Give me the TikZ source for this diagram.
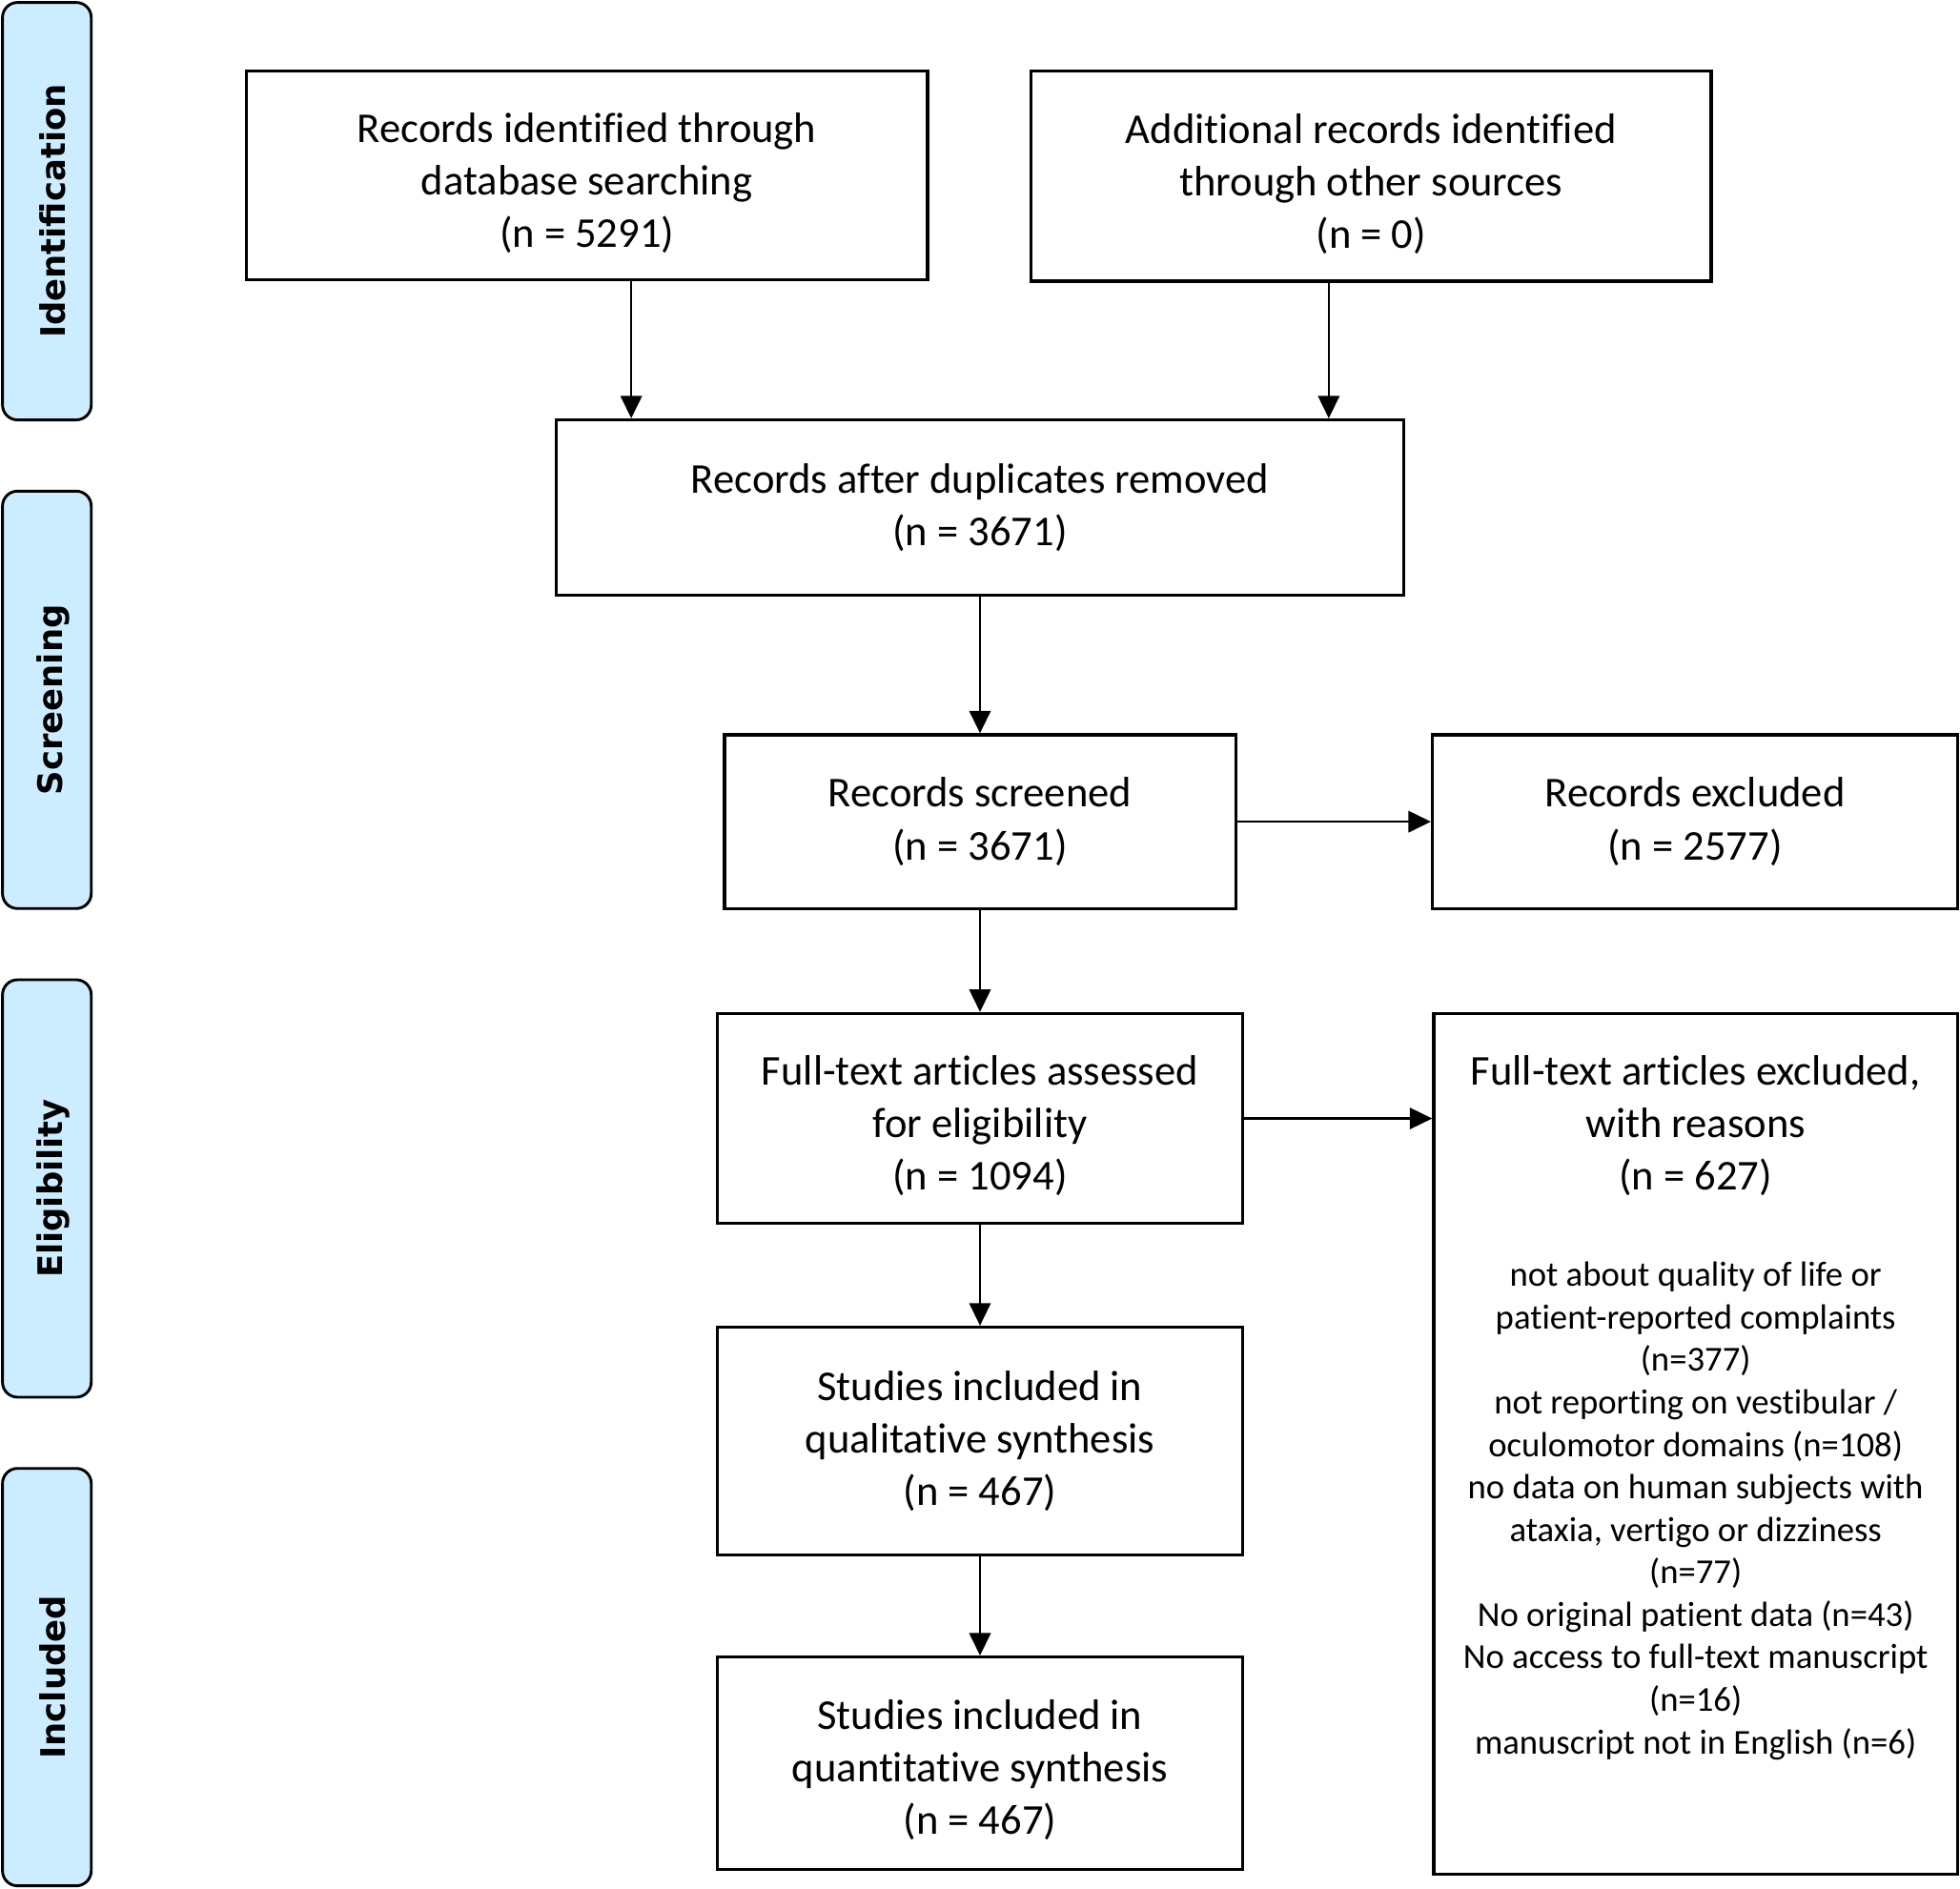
\documentclass[tikz,border=0pt]{standalone}
\usepackage{fontspec}
\setmainfont{Carlito}[Ligatures=CommonOff]
\newfontfamily\sidefont{DejaVu Sans}
\usetikzlibrary{arrows.meta}
\definecolor{sidefill}{RGB}{204,236,255}
\begin{document}
\begin{tikzpicture}[x=1pt,y=-1pt,
  box/.style={draw, line width=2.5pt, rectangle, inner sep=0pt},
  boxtext/.style={align=center, inner sep=0pt, font=\fontsize{34}{42}\selectfont},
  sidebar/.style={draw, line width=2.2pt, fill=sidefill, rounded corners=12pt,
              minimum width=71pt, minimum height=334pt, inner sep=0pt},
  sidetext/.style={rotate=90, font=\sidefont\bfseries\fontsize{27}{32}\selectfont, inner sep=0pt},
  arr/.style={line width=2pt, -{Triangle[length=18pt,width=17pt]}},
  small/.style={align=center, inner sep=0pt, font=\fontsize{28}{34}\selectfont}
]
\useasboundingbox (0,0) rectangle (1568,1511);

% side bars
\node[sidebar] (idbar) at (37.5,169) {};
\node[sidetext] (idtxt) at ([xshift=5pt]idbar.center) {Identification};
\node[sidebar] (scbar) at (37.5,560) {};
\node[sidetext] (sctxt) at ([xshift=5pt]scbar.center) {Screening};
\node[sidebar] (elbar) at (37.5,951) {};
\node[sidetext] (eltxt) at ([xshift=5pt]elbar.center) {Eligibility};
\node[sidebar] (inbar) at (37.5,1342) {};
\node[sidetext] (intxt) at ([xshift=5pt]inbar.center) {Included};

% boxes
\node[box, minimum width=545pt, minimum height=167pt] (rec1) at (469.5,140.5) {};
\node[boxtext] (rec1t) at ([yshift=-6pt]rec1.center)
  {Records identified through\\database searching\\(n = 5291)};
\node[box, minimum width=544pt, minimum height=168pt] (rec2) at (1097,141) {};
\node[boxtext] (rec2t) at ([yshift=-6pt]rec2.center)
  {Additional records identified\\through other sources\\(n = 0)};
\node[box, minimum width=678pt, minimum height=140pt] (dup) at (784,406) {};
\node[boxtext] (dupt) at (dup.center)
  {Records after duplicates removed\\(n = 3671)};
\node[box, minimum width=409pt, minimum height=139pt] (scr) at (784,657.5) {};
\node[boxtext] (scrt) at (scr.center)
  {Records screened\\(n = 3671)};
\node[box, minimum width=420pt, minimum height=139pt] (excl) at (1356,657.5) {};
\node[boxtext] (exclt) at (excl.center)
  {Records excluded\\(n = 2577)};
\node[box, minimum width=420pt, minimum height=168pt] (fta) at (784,895) {};
\node[boxtext] (ftat) at ([yshift=-6pt]fta.center)
  {Full-text articles assessed\\for eligibility\\(n = 1094)};
\node[box, minimum width=419pt, minimum height=689pt] (ftx) at (1356.5,1155.5) {};
\node[boxtext] (ftxhead) at (1356.5,901)
  {Full-text articles excluded,\\with reasons\\(n = 627)};
\node[small] (ftxreasons) at (1356.5,1209)
  {not about quality of life or\\patient-reported complaints\\(n=377)\\
   not reporting on vestibular /\\oculomotor domains (n=108)\\
   no data on human subjects with\\ataxia, vertigo or dizziness\\(n=77)\\
   No original patient data (n=43)\\No access to full-text manuscript\\(n=16)\\
   manuscript not in English (n=6)};
\node[box, minimum width=420pt, minimum height=182pt] (qual) at (784,1153) {};
\node[boxtext] (qualt) at (qual.center)
  {Studies included in\\qualitative synthesis\\(n = 467)};
\node[box, minimum width=420pt, minimum height=170pt] (quant) at (784,1411) {};
\node[boxtext] (quantt) at ([yshift=-5pt]quant.center)
  {Studies included in\\quantitative synthesis\\(n = 467)};

% connectors
\coordinate (c1) at (505,0);
\coordinate (c2) at (1063,0);
\draw[arr] (rec1.south -| c1) -- (dup.north -| c1);
\draw[arr] (rec2.south -| c2) -- (dup.north -| c2);
\draw[arr] (dup.south) -- (scr.north);
\draw[arr] (scr.east) -- (excl.west);
\draw[arr] (scr.south) -- (fta.north);
\draw[arr] (fta.east) -- (fta.east -| ftx.west);
\draw[arr] (fta.south) -- (qual.north);
\draw[arr] (qual.south) -- (quant.north);
\end{tikzpicture}
\end{document}
